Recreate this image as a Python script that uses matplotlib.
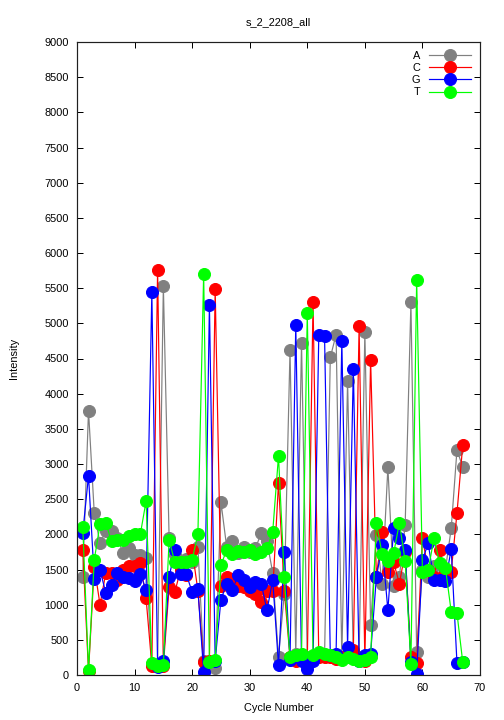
import numpy as np
import matplotlib
matplotlib.use('Agg')
import matplotlib.pyplot as plt

plt.rcParams.update({'font.size': 11, 'font.family': 'Liberation Sans'})

cycles = np.arange(1, 68)

# intensity per base, cycles 1..67
A = [1400, 3760, 2300, 1870, 2050, 2050, 1950, 1730, 1800, 1700,
     1700, 1660, 150, 150, 5530, 1950, 1700, 1600, 1650, 1600,
     1825, 200, 150, 100, 2460, 1820, 1900, 1730, 1820, 1750,
     1800, 2020, 1900, 1450, 260, 1150, 4615, 300, 4720, 250,
     250, 300, 280, 4515, 4840, 250, 4175, 250, 250, 4870,
     710, 1990, 1300, 2955, 1270, 1400, 2130, 5300, 330, 1500,
     1400, 1550, 1380, 1500, 2085, 3200, 2955]
C = [1780, 50, 1540, 1000, 1450, 1450, 1350, 1500, 1550, 1550,
     1590, 1090, 130, 5760, 130, 1250, 1180, 1500, 1420, 1780,
     1200, 180, 200, 5490, 1270, 1400, 1370, 1260, 1250, 1200,
     1150, 1040, 1200, 1200, 2735, 1200, 250, 200, 250, 200,
     5305, 250, 250, 250, 230, 250, 300, 350, 4960, 200,
     4485, 1400, 2040, 1460, 1600, 1300, 1750, 255, 165, 1945,
     1500, 1400, 1775, 1450, 1470, 2300, 3270]
G = [2020, 2835, 1365, 1490, 1170, 1280, 1450, 1400, 1380, 1330,
     1440, 1210, 5440, 120, 200, 1395, 1775, 1430, 1430, 1180,
     1220, 40, 5260, 200, 1070, 1300, 1210, 1420, 1350, 1250,
     1320, 1300, 920, 1350, 140, 1750, 220, 4980, 200, 80,
     200, 4840, 4815, 280, 300, 4750, 400, 4350, 200, 280,
     300, 1390, 1850, 920, 2085, 1945, 1775, 180, 20, 1635,
     1870, 1350, 1350, 1330, 1790, 170, 180]
T = [2110, 70, 1640, 2140, 2160, 1900, 1920, 1920, 1970, 2000,
     2000, 2475, 170, 130, 140, 1920, 1600, 1600, 1600, 1640,
     2000, 5700, 190, 210, 1560, 1780, 1720, 1760, 1750, 1780,
     1720, 1750, 1800, 2040, 3115, 1390, 250, 280, 300, 5150,
     280, 320, 300, 280, 250, 220, 250, 230, 200, 220,
     250, 2165, 1720, 1620, 1730, 2165, 1620, 160, 5620, 1470,
     1490, 1945, 1590, 1520, 900, 880, 185]

series = [('A', A, '#808080'), ('C', C, '#ff0000'),
          ('G', G, '#0000ff'), ('T', T, '#00ff00')]

fig = plt.figure(figsize=(7, 10), dpi=72)
ax = fig.add_axes([77/504, 45/720, 403/504, 633/720])

for name, vals, col in series:
    ax.plot(cycles, vals, '-o', color=col, lw=1.2, ms=12, label=name)

ax.set_xlim(0, 70)
ax.set_ylim(0, 9000)
ax.set_xticks(np.arange(0, 71, 10))
ax.set_yticks(np.arange(0, 9001, 500))
ax.tick_params(direction='in', top=True, right=True, length=6, width=1,
               labelsize=11, pad=8)
for s in ax.spines.values():
    s.set_linewidth(1.2)
    s.set_color('#202020')

ax.set_title('s_2_2208_all', fontsize=11, pad=17)
ax.set_xlabel('Cycle Number', fontsize=11, labelpad=10)
ax.set_ylabel('Intensity', fontsize=11, labelpad=26)

leg = ax.legend(loc='upper right', markerfirst=False, frameon=False, fontsize=11,
                handlelength=3.8, labelspacing=0.2, borderaxespad=0.3,
                handletextpad=0.8, borderpad=0.5)
for t in leg.get_texts():
    t.set_ha('right')

fig.savefig('out.png', dpi=72)
